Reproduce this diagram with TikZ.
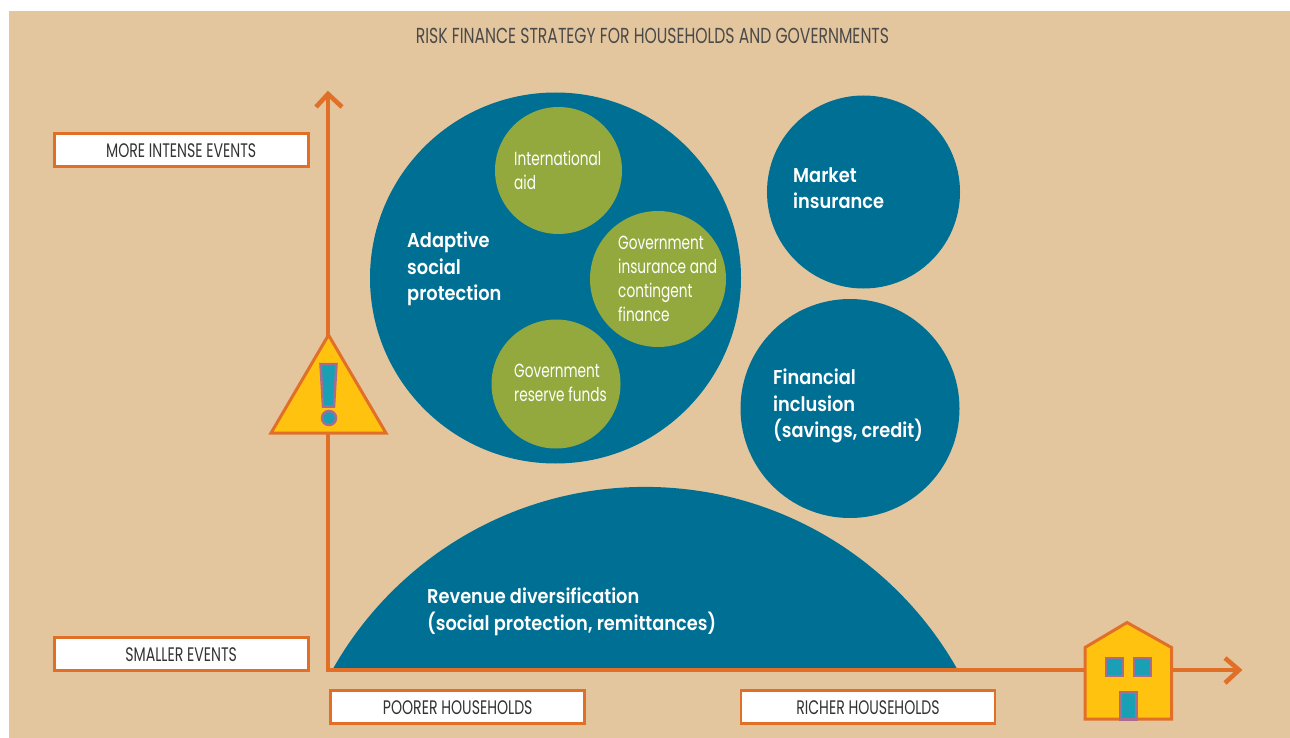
\documentclass[tikz,border=0pt]{standalone}
\usepackage{fontspec}
\setmainfont{Poppins}
\newfontfamily\condfont[FakeStretch=0.72]{Poppins}
\newfontfamily\boldfont[FakeStretch=0.89]{Poppins SemiBold}
\definecolor{bg}{HTML}{E3C69E}
\definecolor{orangeline}{HTML}{E26F28}
\definecolor{tealblue}{HTML}{006F94}
\definecolor{leaf}{HTML}{93A93E}
\definecolor{signy}{HTML}{FFC20E}
\definecolor{cyanfill}{HTML}{1AA0B4}
\definecolor{purpleline}{HTML}{A86C90}
\definecolor{greytext}{HTML}{4A4A4A}
\tikzset{
  labelbox/.style={draw=orangeline,fill=white,line width=2.6pt,minimum width=254pt,minimum height=33.5pt,inner sep=0pt,text height=15.7pt,text depth=0pt,font=\condfont\fontsize{19.6}{19.6}\selectfont,text=black!80},
  bubble/.style={circle,fill=tealblue,inner sep=0pt},
  greenbubble/.style={circle,fill=leaf,inner sep=0pt},
  bigtext/.style={align=left,anchor=north west,inner sep=0pt,text=white,font=\boldfont\fontsize{20}{26.5}\selectfont},
  smalltext/.style={align=left,anchor=north west,inner sep=0pt,text=white,font=\condfont\fontsize{19}{24}\selectfont},
  axisline/.style={draw=orangeline,line width=4.6pt},
  tipline/.style={draw=orangeline,line width=4.6pt,line join=miter,fill=none},
  signpart/.style={draw=purpleline,fill=cyanfill,line width=2.5pt}
}
\begin{document}
\begin{tikzpicture}[x=1pt,y=-1pt]
\useasboundingbox (0,0) rectangle (1290,738);
\fill[white] (0,0) rectangle (1290,738);
\fill[bg] (9,11) rectangle (1290,738);
\node[text=greytext,font=\condfont\fontsize{21.7}{21.7}\selectfont,inner sep=0pt] (title) at (652.5,36) {RISK FINANCE STRATEGY FOR HOUSEHOLDS AND GOVERNMENTS};
% dome
\begin{scope}
\clip (300,480) rectangle (1000,669);
\node[bubble,minimum size=717pt] (dome) at (645,845.4) {};
\end{scope}
% axes
\coordinate (origin) at (328,670);
\coordinate (ytip) at (328,94);
\coordinate (xtip) at (1239,670);
\draw[axisline] (328,672) -- (ytip);
\draw[axisline] (326,670) -- (xtip);
\draw[tipline] (316,107) -- (ytip) -- (342,107);
\draw[tipline] (1225,658) -- (xtip) -- (1225,683);
% bubbles
\node[bubble,minimum size=371pt] (asp) at (555.5,278) {};
\node[bubble,minimum size=193pt] (market) at (863.5,192) {};
\node[bubble,minimum size=219pt] (fin) at (850,408.5) {};
\node[greenbubble,minimum size=127pt] (aid) at (558.5,170.5) {};
\node[greenbubble,minimum size=136pt] (ins) at (658,279) {};
\node[greenbubble,minimum size=129pt] (res) at (556,384) {};
% text
\node[bigtext] (t1) at (407,232) {Adaptive\\social\\protection};
\node[bigtext] (t2) at (793,167) {Market\\insurance};
\node[bigtext] (t3) at (773,369) {Financial\\inclusion\\(savings, credit)};
\node[bigtext] (t4) at (427,588) {Revenue diversification\\(social protection, remittances)};
\node[smalltext] (s1) at (514,151) {International\\aid};
\node[smalltext] (s2) at (618,236) {Government\\insurance and\\contingent\\finance};
\node[smalltext] (s3) at (514,364) {Government\\reserve funds};
% label boxes
\node[labelbox] (b1) at (181.2,150) {MORE INTENSE EVENTS};
\node[labelbox] (b2) at (181.2,654) {SMALLER EVENTS};
\node[labelbox] (b3) at (457.7,707) {POORER HOUSEHOLDS};
\node[labelbox] (b4) at (868,707) {RICHER HOUSEHOLDS};
% warning sign
\draw[draw=orangeline,fill=signy,line width=3pt,line join=miter] (328.5,335) -- (386,433) -- (271,433) -- cycle;
\draw[signpart] (320.5,364) -- (336.5,364) -- (334,406.5) -- (323,406.5) -- cycle;
\draw[signpart] (329,418) circle (7pt);
% house
\draw[draw=orangeline,fill=signy,line width=3pt,line join=miter] (1085,719) -- (1085,647.5) -- (1127,622.5) -- (1171.5,647.5) -- (1171.5,719) -- cycle;
\draw[signpart] (1106,658) rectangle (1123,676);
\draw[signpart] (1134,658) rectangle (1151,676);
\draw[signpart] (1120.5,692.5) rectangle (1136.5,719.5);
\end{tikzpicture}
\end{document}
